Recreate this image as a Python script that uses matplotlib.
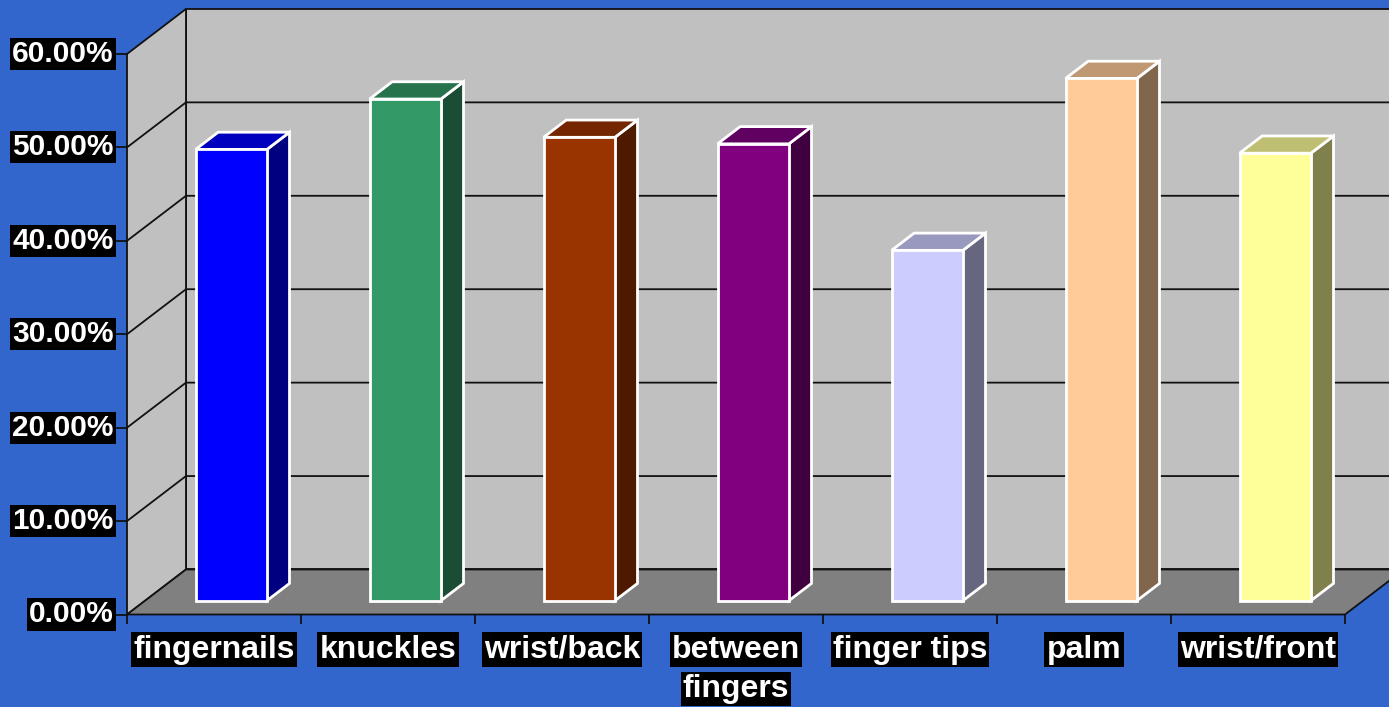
import matplotlib
matplotlib.use('Agg')
import matplotlib.pyplot as plt
from matplotlib.patches import Polygon

# Data
categories = ['fingernails', 'knuckles', 'wrist/back', 'between\nfingers',
              'finger tips', 'palm', 'wrist/front']
values = [48.3, 53.7, 49.6, 48.9, 37.5, 55.9, 47.9]
front_colors = ['#0000FF', '#339966', '#993300', '#800080',
                '#CCCCFF', '#FFCC99', '#FFFF99']
y_ticks = [0, 10, 20, 30, 40, 50, 60]

# oblique "3D" setup: depth d in 0..1 shifts x by DX categories and y by DY percent
DX = 0.339
DY = 4.82
BAR_D0, BAR_D1 = 0.307, 0.69
BAR_L, BAR_R = 0.29, 0.70
n = len(categories)
ymax = 60


def proj(x, y, d):
    return (x + d * DX, y + d * DY)


def shade(hexcol, k):
    r, g, b = matplotlib.colors.to_rgb(hexcol)
    return (r * k, g * k, b * k)


fig = plt.figure(figsize=(13.89, 7.07), dpi=100, facecolor='#3366CC')
ax = fig.add_axes([0, 0, 1, 1])
ax.set_facecolor('#3366CC')
ax.set_xlim(-127 / 174, (1389 - 127) / 174)
ax.set_ylim(-(707 - 614.5) / 9.342, 614.5 / 9.342)
ax.axis('off')

line_kw = dict(color='#111111', lw=1.3)

# back wall
back = [proj(0, 0, 1), proj(n, 0, 1), proj(n, ymax, 1), proj(0, ymax, 1)]
ax.add_patch(Polygon(back, closed=True, facecolor='#C0C0C0', edgecolor='#111111', lw=1.3, zorder=1))
# left side wall
side = [proj(0, 0, 0), proj(0, 0, 1), proj(0, ymax, 1), proj(0, ymax, 0)]
ax.add_patch(Polygon(side, closed=True, facecolor='#C0C0C0', edgecolor='#111111', lw=1.3, zorder=1))
# floor
floor = [proj(0, 0, 0), proj(n, 0, 0), proj(n, 0, 1), proj(0, 0, 1)]
ax.add_patch(Polygon(floor, closed=True, facecolor='#808080', edgecolor='#111111', lw=1.3, zorder=1))

# gridlines
for v in y_ticks[1:-1]:
    p0, p1, p2 = proj(0, v, 0), proj(0, v, 1), proj(n, v, 1)
    ax.plot([p0[0], p1[0], p2[0]], [p0[1], p1[1], p2[1]], zorder=2, **line_kw)

# axis ticks
for v in y_ticks:
    ax.plot([-0.057, 0], [v, v], zorder=2, **line_kw)
for i in range(n + 1):
    ax.plot([i, i], [0, -0.91], zorder=2, **line_kw)

# bars
for i, (val, col) in enumerate(zip(values, front_colors)):
    xl, xr = i + BAR_L, i + BAR_R
    front = [proj(xl, 0, BAR_D0), proj(xr, 0, BAR_D0), proj(xr, val, BAR_D0), proj(xl, val, BAR_D0)]
    top = [proj(xl, val, BAR_D0), proj(xr, val, BAR_D0), proj(xr, val, BAR_D1), proj(xl, val, BAR_D1)]
    right = [proj(xr, 0, BAR_D0), proj(xr, 0, BAR_D1), proj(xr, val, BAR_D1), proj(xr, val, BAR_D0)]
    ax.add_patch(Polygon(right, closed=True, facecolor=shade(col, 0.5), edgecolor='white', lw=2, zorder=3))
    ax.add_patch(Polygon(top, closed=True, facecolor=shade(col, 0.75), edgecolor='white', lw=2, zorder=3))
    ax.add_patch(Polygon(front, closed=True, facecolor=col, edgecolor='white', lw=2, zorder=4))

# labels
fam = ['Liberation Sans', 'DejaVu Sans']
box = dict(facecolor='black', edgecolor='none', pad=1.5)
for v in y_ticks:
    ax.text(-0.078, v, f'{v:.2f}%', ha='right', va='center', bbox=box, zorder=5,
            family=fam, fontsize=21.5, fontweight='bold', color='white')
for i, cat in enumerate(categories):
    for k, part in enumerate(cat.split('\n')):
        ax.text(i + 0.5, -3.75 - 4.2 * k, part, ha='center', va='center', bbox=box, zorder=5,
                family=fam, fontsize=23, fontweight='bold', color='white')

fig.savefig('out.png', dpi=100, facecolor=fig.get_facecolor())
